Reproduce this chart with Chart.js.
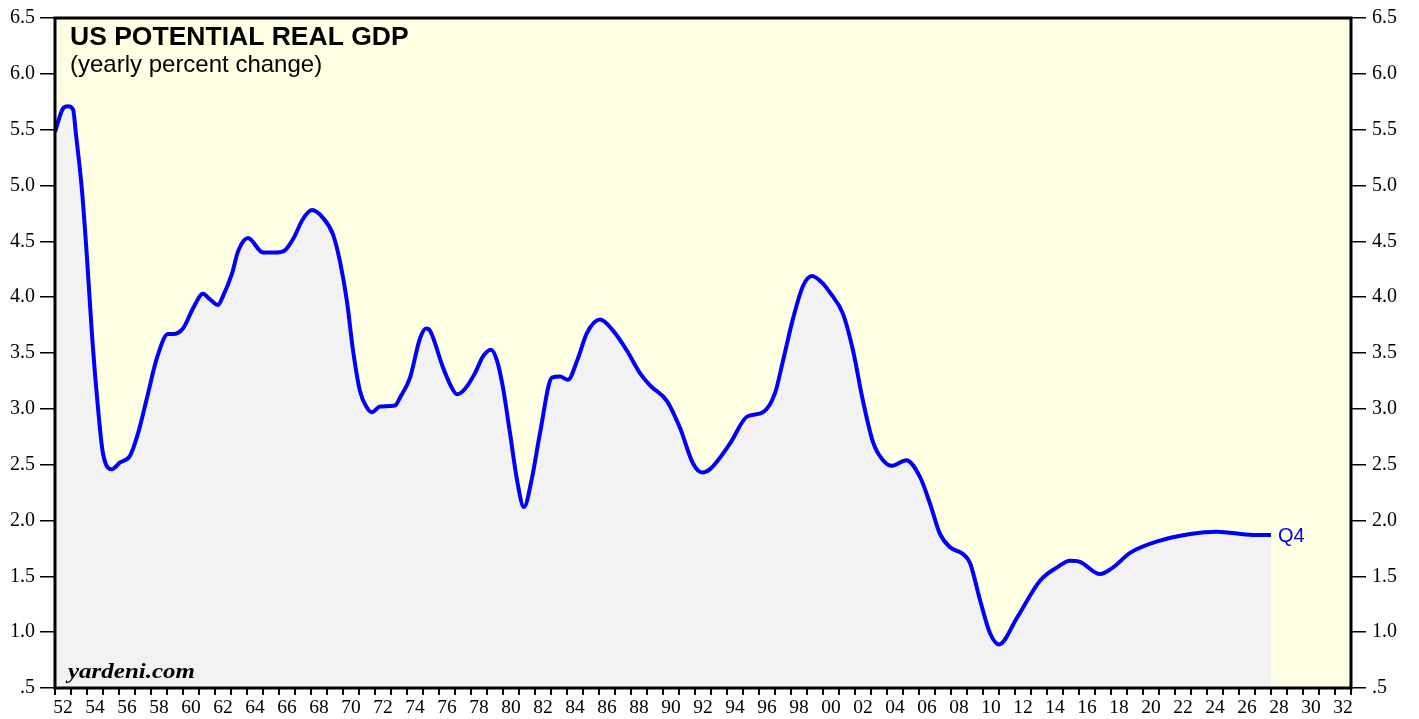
<!DOCTYPE html>
<html>
<head>
<meta charset="utf-8">
<script src="https://cdn.jsdelivr.net/npm/chart.js@4/dist/chart.umd.min.js"></script>
<style>
  body { margin: 0; background: #fff; }
</style>
</head>
<body>
<canvas id="chart" width="1419" height="719"></canvas>
<script>
// year (fraction) and yearly % change of potential real GDP
var years = [
    1952.0, 1952.5, 1952.81, 1953.13, 1953.31, 1953.69, 1954.0, 1954.31, 1954.63, 1955.0,
    1955.56, 1956.06, 1956.69, 1957.19, 1957.75, 1958.38, 1959.06, 1959.38, 1960.0, 1960.63,
    1961.25, 1961.69, 1962.19, 1962.5, 1963.06, 1963.44, 1964.06, 1965.0, 1965.88, 1966.38,
    1966.88, 1967.5, 1968.06, 1968.75, 1969.38, 1969.81, 1970.25, 1970.63, 1971.06, 1971.5,
    1971.81, 1972.31, 1973.25, 1973.56, 1974.19, 1974.81, 1975.19, 1975.44, 1976.25, 1976.69,
    1977.13, 1977.63, 1978.25, 1978.75, 1979.25, 1979.63, 1980.0, 1980.44, 1980.88, 1981.31,
    1981.81, 1982.31, 1983.06, 1983.56, 1984.06, 1984.63, 1985.25, 1986.06, 1986.88, 1987.75,
    1988.56, 1989.19, 1990.25, 1991.06, 1991.88, 1992.44, 1992.94, 1994.19, 1995.25, 1996.25,
    1997.0, 1997.5, 1998.13, 1998.75, 1999.31, 1999.94, 2000.44, 2001.25, 2001.88, 2002.5,
    2003.13, 2003.75, 2004.31, 2005.2, 2006.06, 2006.69, 2007.31, 2007.94, 2008.75, 2009.19,
    2009.81, 2010.44, 2011.0, 2012.13, 2013.56, 2014.63, 2015.44, 2016.06, 2017.31, 2018.13,
    2019.19, 2021.06, 2022.94, 2024.63, 2026.88, 2028.0
];
var potentialGdp = [
    5.48, 5.69, 5.71, 5.68, 5.46, 4.95, 4.35, 3.67, 3.10, 2.60,
    2.46, 2.52, 2.58, 2.78, 3.10, 3.46, 3.67, 3.67, 3.72, 3.90,
    4.03, 3.98, 3.93, 4.01, 4.21, 4.41, 4.53, 4.40, 4.40, 4.42,
    4.52, 4.70, 4.78, 4.71, 4.56, 4.32, 3.96, 3.52, 3.16, 3.01,
    2.97, 3.02, 3.03, 3.10, 3.28, 3.63, 3.72, 3.70, 3.37, 3.22,
    3.13, 3.18, 3.32, 3.47, 3.53, 3.43, 3.19, 2.78, 2.36, 2.12,
    2.38, 2.78, 3.28, 3.29, 3.26, 3.43, 3.68, 3.80, 3.70, 3.52,
    3.32, 3.21, 3.07, 2.83, 2.51, 2.43, 2.46, 2.69, 2.93, 2.97,
    3.14, 3.43, 3.81, 4.10, 4.19, 4.13, 4.04, 3.85, 3.52, 3.07,
    2.70, 2.54, 2.49, 2.54, 2.39, 2.15, 1.88, 1.76, 1.70, 1.62,
    1.29, 0.99, 0.89, 1.13, 1.46, 1.58, 1.64, 1.63, 1.52, 1.58,
    1.71, 1.82, 1.88, 1.90, 1.87, 1.87
];
var yearMin = 1952, yearMax = 2033;
var yMin = 0.5, yMax = 6.5, yStep = 0.5;

var points = years.map(function (x, i) { return { x: x, y: potentialGdp[i] }; });

function yLabel(v) {
    return v === 0.5 ? '.5' : v.toFixed(1);
}

var decorPlugin = {
    id: 'decor',
    beforeDraw: function (chart) {
        var a = chart.chartArea, ctx = chart.ctx;
        ctx.save();
        ctx.fillStyle = '#ffffe3';
        ctx.fillRect(a.left, a.top, a.right - a.left, a.bottom - a.top);
        ctx.restore();
    },
    afterDatasetsDraw: function (chart) {
        var a = chart.chartArea, ctx = chart.ctx;
        ctx.save();
        ctx.strokeStyle = '#000';
        ctx.lineWidth = 3;
        ctx.strokeRect(a.left, a.top, a.right - a.left, a.bottom - a.top);

        ctx.fillStyle = '#000';
        ctx.textBaseline = 'alphabetic';
        ctx.font = 'bold 26.5px "Liberation Sans", Arial, sans-serif';
        ctx.fillText('US POTENTIAL REAL GDP', 70, 45);
        ctx.font = '24px "Liberation Sans", Arial, sans-serif';
        ctx.fillText('(yearly percent change)', 70, 72);

        // watermark, stretched to the width it has in the original
        ctx.font = 'bold italic 21px "Liberation Serif", "Times New Roman", serif';
        var w = ctx.measureText('yardeni.com').width;
        ctx.save();
        ctx.translate(68, 678);
        ctx.scale(127 / w, 1);
        ctx.fillText('yardeni.com', 0, 0);
        ctx.restore();

        // last value tag
        var xs = chart.scales.x, ys = chart.scales.y;
        var last = points[points.length - 1];
        ctx.fillStyle = '#0000ff';
        ctx.font = '20px "Liberation Sans", Arial, sans-serif';
        ctx.textBaseline = 'middle';
        ctx.fillText('Q4', xs.getPixelForValue(last.x) + 7, ys.getPixelForValue(last.y) + 1);
        ctx.restore();
    }
};

var tickFont = { family: '"Liberation Serif", "Times New Roman", serif', size: 20 };

new Chart(document.getElementById('chart').getContext('2d'), {
    type: 'line',
    data: {
        datasets: [{
            data: points,
            borderColor: '#0000ff',
            borderWidth: 4,
            backgroundColor: '#f2f2f2',
            fill: 'start',
            pointRadius: 0,
            cubicInterpolationMode: 'monotone'
        }]
    },
    options: {
        responsive: false,
        animation: false,
        layout: { padding: { top: 16 } },
        plugins: {
            legend: { display: false },
            tooltip: { enabled: false }
        },
        scales: {
            x: {
                type: 'linear',
                min: yearMin,
                max: yearMax,
                grid: { drawOnChartArea: false, color: '#000', lineWidth: 2, tickLength: 7 },
                border: { display: false },
                ticks: {
                    stepSize: 1,
                    autoSkip: false,
                    maxRotation: 0,
                    labelOffset: 8,
                    padding: 1,
                    color: '#000',
                    font: { family: tickFont.family, size: 19.5 },
                    callback: function (v) {
                        if (v % 2 !== 0 || v >= yearMax) return '';
                        return String(v % 100).padStart(2, '0');
                    }
                },
                afterFit: function (s) { s.height = 31; }
            },
            y: {
                position: 'left',
                min: yMin,
                max: yMax,
                grid: { drawOnChartArea: false, color: '#000', lineWidth: 1.5, tickLength: 15 },
                border: { display: false },
                ticks: {
                    stepSize: yStep,
                    padding: 5,
                    color: '#000',
                    font: tickFont,
                    callback: function (v) { return yLabel(v); }
                },
                afterFit: function (s) { s.width = 55; }
            },
            y2: {
                position: 'right',
                min: yMin,
                max: yMax,
                grid: { drawOnChartArea: false, color: '#000', lineWidth: 1.5, tickLength: 15 },
                border: { display: false },
                ticks: {
                    stepSize: yStep,
                    padding: 6,
                    color: '#000',
                    font: tickFont,
                    callback: function (v) { return yLabel(v); }
                },
                afterFit: function (s) { s.width = 68; }
            }
        }
    },
    plugins: [decorPlugin]
});
</script>
</body>
</html>
